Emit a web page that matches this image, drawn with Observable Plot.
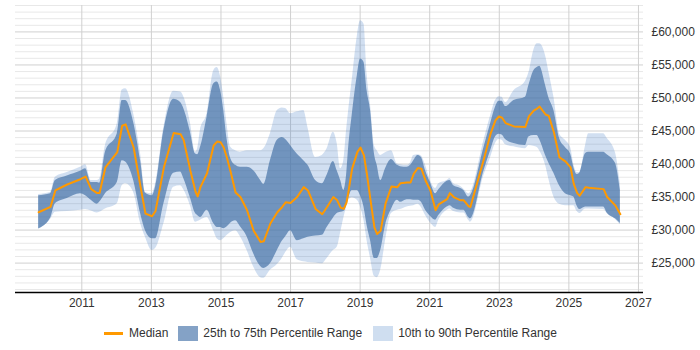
<!DOCTYPE html>
<html>
<head>
<meta charset="utf-8">
<script src="https://cdn.jsdelivr.net/npm/d3@7"></script>
<script src="https://cdn.jsdelivr.net/npm/@observablehq/plot@0.6"></script>
<style>
  body { margin: 0; background: #fff; font-family: "Liberation Sans", Arial, sans-serif; }
  #chart { width: 700px; }
  .legend { display: flex; align-items: center; height: 16px; margin-top: 10px; padding-left: 104px; font-size: 12px; color: #333; }
  .legend .line { width: 19px; height: 3px; background: #ff9900; margin-right: 6px; }
  .legend .box { width: 20px; height: 15px; margin-right: 5px; }
  .legend .dark { background: #84a2c6; }
  .legend .light { background: #cfdef0; }
</style>
</head>
<body>
<div id="chart"></div>
<script>
// Sample dates (decimal years)
const years = [2009.76,2010.10,2010.24,2010.58,2010.96,2011.11,2011.27,2011.44,2011.51,2011.68,
  2012.02,2012.16,2012.26,2012.49,2012.69,2012.83,2013.02,2013.12,2013.36,2013.64,
  2013.84,2013.93,2014.12,2014.27,2014.33,2014.41,2014.60,2014.79,2014.89,2014.99,
  2015.08,2015.18,2015.27,2015.42,2015.56,2015.75,2015.94,2016.14,2016.23,2016.42,
  2016.62,2016.76,2016.86,2017.00,2017.19,2017.38,2017.50,2017.72,2017.91,2018.05,
  2018.23,2018.34,2018.44,2018.53,2018.61,2018.67,2018.77,2018.92,2019.01,2019.11,
  2019.20,2019.30,2019.41,2019.49,2019.59,2019.73,2019.90,2020.07,2020.16,2020.35,
  2020.45,2020.54,2020.66,2020.76,2020.88,2021.02,2021.17,2021.26,2021.50,2021.58,
  2021.69,2021.89,2021.98,2022.12,2022.17,2022.56,2022.75,2022.89,2022.99,2023.08,
  2023.18,2023.42,2023.75,2023.85,2023.99,2024.09,2024.16,2024.33,2024.42,2024.57,
  2024.73,2024.90,2025.05,2025.14,2025.24,2025.31,2025.48,2025.57,2026.00,2026.10,
  2026.34,2026.48];

// 90th percentile salary
const p90 = [35400,35700,38000,38700,39500,39900,37500,37500,37700,42800,
  46100,51200,51400,47600,41500,35700,35500,37000,45600,51000,
  50900,50200,46300,41800,42300,45100,47600,54100,54600,53200,
  50100,45800,42600,42000,41800,42000,42000,42000,42300,44600,
  48100,48500,48400,47600,47900,48100,45500,41000,41300,42300,
  44800,43100,39300,40500,45100,48100,52600,59400,61700,61200,
  53600,48900,42800,42000,41300,41700,42000,40000,39900,39800,
  40200,41300,41400,41200,39800,37500,36300,37000,37500,37800,
  37000,36600,36200,35500,35700,43600,47300,49600,50200,50100,
  49300,51100,52500,53800,57200,58200,58200,56400,54100,50100,
  44600,43600,42500,40000,38700,38700,42800,44600,44600,43900,
  41700,37000];

// 75th percentile salary
const p75 = [35200,35500,37500,38200,38900,39300,37200,37200,37100,41800,
  44600,49600,49600,46300,40500,35600,35200,36500,45100,49800,
  49300,48400,44900,41500,41400,42500,47100,52100,52400,51100,
  48100,43600,41000,39800,39500,39500,39000,37500,36900,40500,
  43600,44000,43700,42800,41500,40500,39800,37500,37000,38300,
  40400,39000,37500,36000,38300,42500,47300,53400,55900,55400,
  51100,48100,41600,39800,37500,39300,40700,39800,39600,39500,
  39800,40500,41300,41000,39000,37200,35500,36100,37400,37500,
  36700,36300,36000,35000,35200,42500,46100,48600,49500,49500,
  48700,49600,50100,51900,54100,54600,54800,51900,50100,48100,
  43900,42500,41500,39500,38400,38600,41600,41800,41800,41400,
  40100,36000];

// Median salary
const median = [32700,33500,36000,36900,37700,38100,36200,35600,35600,39500,
  41800,45800,46000,42500,36500,32500,32100,32900,39500,44700,
  44500,43600,39000,35800,35100,36500,38600,42800,43400,43300,
  42500,40800,39000,35700,35000,33000,29900,28200,28300,31000,
  32700,33500,34200,34100,35000,36500,36000,33200,32400,33500,
  35000,34500,33400,33200,34200,36000,39300,41800,42500,41300,
  38300,34500,30400,29400,29900,34000,36600,36500,37100,37200,
  37200,38500,39400,39300,37500,36000,33000,33900,34700,35600,
  35000,34500,34500,33600,33500,40800,44600,46600,47200,47000,
  46200,45700,45600,47200,48100,48400,48700,47500,47300,44800,
  41000,40400,39500,37000,35600,35200,36500,36400,36200,35000,
  33700,32400];

// 25th percentile salary
const p25 = [30200,31800,34000,34800,35500,35200,34500,33900,34200,35500,
  37200,40500,40300,37500,32500,29900,28700,28700,34000,38600,
  38800,37800,34900,32500,32200,31900,33000,31000,30400,30400,
  30200,30500,31000,31400,30500,29000,26400,24500,24200,24900,
  26900,28300,29000,29900,28400,28700,28900,29100,29200,30400,
  31800,32500,32700,32800,33700,34800,36000,36000,35200,33500,
  30700,28400,25700,25700,26900,30700,33100,34500,34200,34600,
  34600,34500,34500,34200,33000,32100,31500,32200,33500,33700,
  33300,33000,33000,31900,31700,39000,42000,44100,44500,44400,
  43700,43100,42800,44100,44300,44300,43700,41300,40200,38600,
  36700,35500,35200,35000,33600,33100,33500,33500,33500,32600,
  31700,31000];

// 10th percentile salary
const p10 = [30100,31600,32700,32800,33000,33100,32900,32600,32700,33200,
  34000,36700,37000,35700,31000,28900,26900,27200,31000,36500,
  36700,36100,33700,31200,31300,31500,31900,29900,28700,28400,
  28700,29200,29600,29900,29000,26900,24400,22800,22700,23900,
  24800,25700,26600,27400,25500,25200,25100,25000,24900,25700,
  26900,27400,29600,31800,33400,34500,34900,34500,33500,31500,
  28400,25700,23000,22800,23900,28400,32500,33000,33100,33500,
  33600,33700,33900,33400,32200,31100,30400,31500,33000,33200,
  32800,32600,32600,31500,31200,38300,41000,43100,43700,43600,
  42900,42600,42300,42800,42700,42500,42000,39800,37800,35000,
  33900,33700,33700,33700,32800,32500,33200,33200,33100,32500,
  31600,30800];

// Axis ticks
const yearTicks = [2011, 2013, 2015, 2017, 2019, 2021, 2023, 2025, 2027];
const salaryTicks = [25000, 30000, 35000, 40000, 45000, 50000, 55000, 60000];
const yMin = 20550, yMax = 64000;

const minorTicks = d3.range(21000, yMax + 1, 1000).filter(v => v % 5000 !== 0);
const rows = years.map((year, i) => ({year, p10: p10[i], p25: p25[i], median: median[i], p75: p75[i], p90: p90[i]}));
const pound = d => "£" + d3.format(",")(d);

const chart = Plot.plot({
  width: 700,
  height: 315,
  marginLeft: 15,
  marginRight: 57,
  marginTop: 5,
  marginBottom: 23,
  style: {fontFamily: "'Liberation Sans', Arial, sans-serif", fontSize: "12px", color: "#333", background: "#fff"},
  x: {domain: [2009.094, 2027.145], label: null},
  y: {domain: [yMin, yMax], label: null},
  marks: [
    Plot.ruleY(minorTicks, {stroke: "#e8e8e8", strokeWidth: 1}),
    Plot.ruleY(salaryTicks, {stroke: "#d0d0d0", strokeWidth: 1}),
    Plot.ruleX(yearTicks, {stroke: "#d0d0d0", strokeWidth: 1}),
    Plot.areaY(rows, {x: "year", y1: "p10", y2: "p90", fill: "#2e6fc0", fillOpacity: 0.22, curve: "monotone-x"}),
    Plot.areaY(rows, {x: "year", y1: "p25", y2: "p75", fill: "#4572a7", fillOpacity: 0.69, curve: "monotone-x"}),
    Plot.lineY(rows, {x: "year", y: "median", stroke: "#ff9900", strokeWidth: 2, strokeLinejoin: "round"}),
    Plot.ruleY([yMin], {stroke: "#000", strokeWidth: 1.5}),
    Plot.axisX({ticks: yearTicks, tickSize: 0, tickPadding: 6, tickFormat: "d", label: null}),
    Plot.axisY({anchor: "right", ticks: salaryTicks, tickSize: 0, tickPadding: 8, tickFormat: pound, label: null})
  ]
});
document.getElementById("chart").append(chart);

// Legend below the chart
const legend = document.createElement("div");
legend.className = "legend";
legend.innerHTML =
  '<span class="line"></span><span style="margin-right:10px">Median</span>' +
  '<span class="box dark"></span><span style="margin-right:11px">25th to 75th Percentile Range</span>' +
  '<span class="box light"></span><span>10th to 90th Percentile Range</span>';
document.getElementById("chart").append(legend);
</script>
</body>
</html>
